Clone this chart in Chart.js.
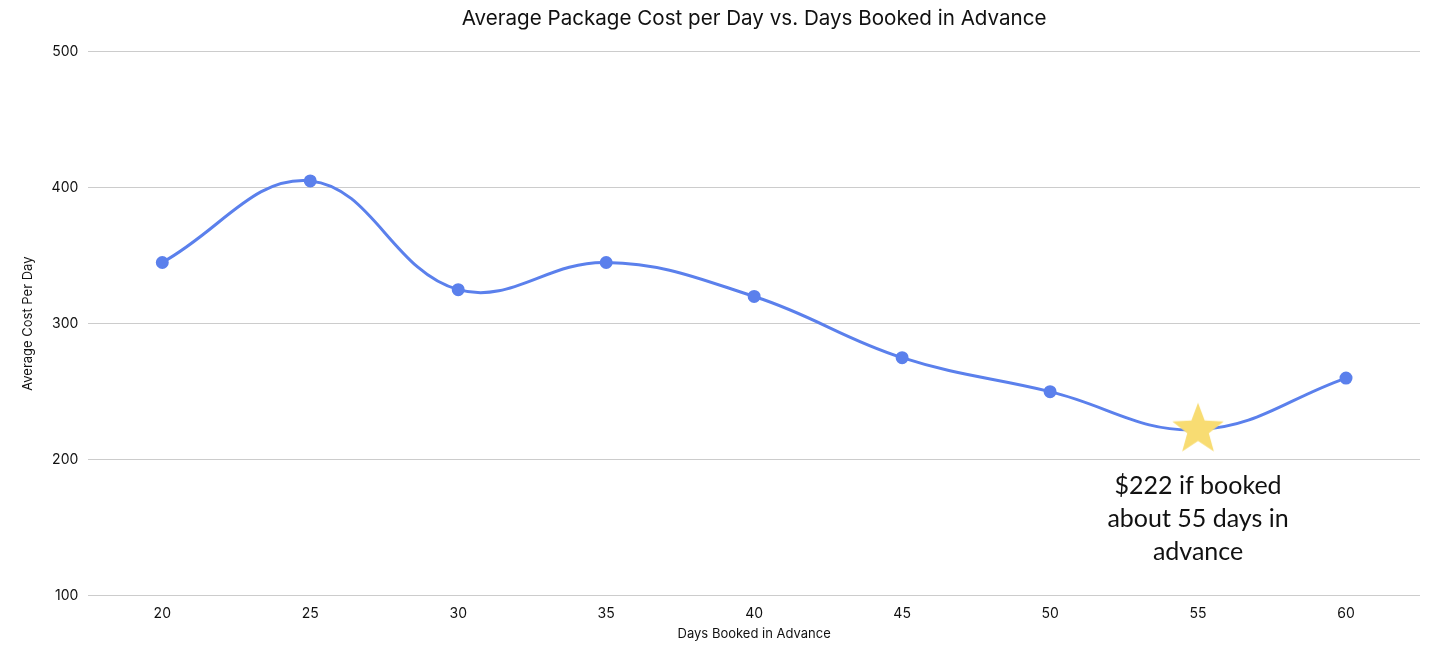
<!DOCTYPE html>
<html>
<head>
<meta charset="utf-8">
<script src="https://cdn.jsdelivr.net/npm/chart.js@4"></script>
<style>
  html, body { margin: 0; padding: 0; background: #fff; }
  #wrap { width: 1442px; height: 648px; }
</style>
</head>
<body>
<div id="wrap"><canvas id="costChart"></canvas></div>
<script>
const daysBooked = ['20', '25', '30', '35', '40', '45', '50', '55', '60'];
const avgCost = [345, 405, 325, 345, 320, 275, 250, 222, 260];
const bestIndex = 7;
const noteLines = ['$222 if booked', 'about 55 days in', 'advance'];

// yellow five point star for the cheapest point
function makeStar(r) {
  const c = document.createElement('canvas');
  const size = r * 2 + 4;
  c.width = size; c.height = size;
  const g = c.getContext('2d');
  const cx = size / 2, cy = size / 2;
  g.beginPath();
  for (let i = 0; i < 10; i++) {
    const rad = i % 2 === 0 ? r : r * 0.42;
    const a = -Math.PI / 2 + i * Math.PI / 5;
    g.lineTo(cx + rad * Math.cos(a), cy + rad * Math.sin(a));
  }
  g.closePath();
  g.fillStyle = '#f8dc72';
  g.fill();
  return c;
}
const star = makeStar(27);

const noteLabel = {
  id: 'noteLabel',
  afterDatasetsDraw(chart) {
    const { ctx, scales } = chart;
    const x = scales.x.getPixelForValue(bestIndex);
    const y0 = scales.y.getPixelForValue(avgCost[bestIndex]);
    ctx.save();
    ctx.font = '25px Lato';
    ctx.fillStyle = '#111';
    ctx.textAlign = 'center';
    ctx.textBaseline = 'middle';
    noteLines.forEach((t, i) => ctx.fillText(t, x, y0 + 56 + i * 33));
    ctx.restore();
  }
};

const ctx = document.getElementById('costChart').getContext('2d');
new Chart(ctx, {
  type: 'line',
  data: {
    labels: daysBooked,
    datasets: [{
      label: 'Average Cost Per Day',
      data: avgCost,
      borderColor: '#5b80ec',
      backgroundColor: '#5b80ec',
      borderWidth: 3,
      tension: 0.4,
      pointRadius: 5,
      pointHoverRadius: 5,
      pointStyle: avgCost.map((v, i) => i === bestIndex ? star : 'circle')
    }]
  },
  options: {
    responsive: true,
    maintainAspectRatio: false,
    animation: false,
    layout: { padding: { top: 4, right: 22, left: 16, bottom: 2 } },
    plugins: {
      legend: { display: false },
      tooltip: { enabled: false },
      title: {
        display: true,
        fullSize: false,
        text: 'Average Package Cost per Day vs. Days Booked in Advance',
        color: '#111',
        font: { family: 'Inter', size: 20.6, weight: 'normal' },
        padding: { top: 2, bottom: 21 }
      }
    },
    scales: {
      x: {
        offset: true,
        grid: { display: false },
        border: { display: false },
        ticks: { color: '#111', font: { family: 'Inter', size: 14 }, padding: 2 },
        title: { display: true, text: 'Days Booked in Advance', color: '#111', font: { family: 'Inter', size: 13 }, padding: { top: 2 } }
      },
      y: {
        min: 100,
        max: 500,
        ticks: { stepSize: 100, color: '#111', font: { family: 'Inter', size: 14 }, padding: 10 },
        grid: { color: '#cccccc', drawTicks: false },
        border: { display: false },
        title: { display: true, text: 'Average Cost Per Day', color: '#111', font: { family: 'Inter', size: 13 }, padding: { bottom: 6 } }
      }
    }
  },
  plugins: [noteLabel]
});
</script>
</body>
</html>
